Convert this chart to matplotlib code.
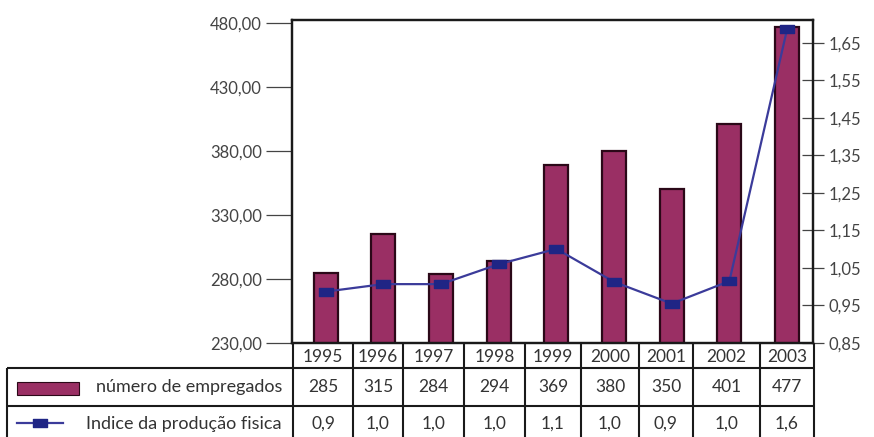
import numpy as np
import matplotlib
matplotlib.use("Agg")
import matplotlib.pyplot as plt
from matplotlib.path import Path

plt.rcParams['font.family'] = ['Lato', 'DejaVu Sans']

# ---- data ----
anos = ["1995", "1996", "1997", "1998", "1999", "2000", "2001", "2002", "2003"]
empregados = [285, 315, 284, 294, 369, 380, 350, 401, 477]
indice_producao = [0.987, 1.007, 1.007, 1.060, 1.101, 1.013, 0.955, 1.015, 1.687]
ticks_esq = [230, 280, 330, 380, 430, 480]
ticks_dir = [0.85, 0.95, 1.05, 1.15, 1.25, 1.35, 1.45, 1.55, 1.65]

# ---- figure geometry (pixels) ----
W, H = 874, 437
fig = plt.figure(figsize=(W / 100, H / 100), dpi=100)
PL, PR, PT, PB = 292, 813, 20, 343

ax = fig.add_axes([PL / W, 1 - PB / H, (PR - PL) / W, (PB - PT) / H])
ax2 = ax.twinx()

BAR_FILL = "#9a2f64"
BAR_EDGE = "#2b0818"
LINE_COL = "#3b3b9a"
MARK_COL = "#1f2585"
TXT = "#333333"
TICK_TXT = "#444444"
FRAME = "#1a1a1a"

x = np.arange(len(anos))
pitch = 57.7
c0 = 325.5
ax.set_xlim((PL - c0) / pitch, (PR - c0) / pitch)
ax.bar(x, empregados, width=24 / pitch, color=BAR_FILL, edgecolor=BAR_EDGE,
       linewidth=1.6, zorder=2)
ax.set_ylim(230, 480 + 3 / 1.28)

# wide rectangular marker
rect = Path([(-1, -0.62), (1, -0.62), (1, 0.62), (-1, 0.62), (-1, -0.62)],
            [Path.MOVETO, Path.LINETO, Path.LINETO, Path.LINETO, Path.CLOSEPOLY])
ax2.plot(x, indice_producao, color=LINE_COL, lw=1.6, marker=rect,
         markersize=10, markerfacecolor=MARK_COL, markeredgecolor=MARK_COL,
         zorder=3)
ax2.set_ylim(0.85, 0.85 + 323 / 375)

ax.set_xticks([])
ax.set_yticks(ticks_esq)
ax.set_yticklabels([f"{v:.2f}".replace(".", ",") for v in ticks_esq])
ax2.set_yticks(ticks_dir)
ax2.set_yticklabels([f"{v:.2f}".replace(".", ",") for v in ticks_dir])

ax.tick_params(axis="y", direction="out", length=18.5, width=0.9, color="#444444",
               pad=3, labelsize=12, labelcolor=TICK_TXT)
ax2.tick_params(axis="y", direction="inout", length=16, width=0.9, color="#444444",
                pad=3, labelsize=12, labelcolor=TICK_TXT)

for a in (ax, ax2):
    for s in a.spines.values():
        s.set_color(FRAME)
        s.set_linewidth(1.6)

# ---- data table below the chart ----
ov = fig.add_axes([0, 0, 1, 1], zorder=5)
ov.set_xlim(0, W)
ov.set_ylim(H, 0)
ov.axis("off")

cols = [293, 353, 403, 464, 525, 581, 639, 693, 760, 814]
r_top, r1, r2, r_bot = 343, 368, 406, H + 2
lk = dict(color=FRAME, lw=1.5, solid_capstyle="butt")

ov.plot([7, 814], [r1, r1], **lk)
ov.plot([7, 814], [r2, r2], **lk)
ov.plot([7, 7], [r1, r_bot], **lk)
for cx in cols:
    ov.plot([cx, cx], [r_top, r_bot], **lk)

fs = 12.5
for i in range(len(anos)):
    xc = (cols[i] + cols[i + 1]) / 2
    ov.text(xc, (r_top + r1) / 2 + 1, anos[i], ha="center", va="center",
            fontsize=fs, color=TXT)
    ov.text(xc, (r1 + r2) / 2, str(empregados[i]), ha="center", va="center",
            fontsize=fs, color=TXT)
    trunc = np.floor(indice_producao[i] * 10 + 1e-9) / 10
    ov.text(xc, (r2 + H) / 2 + 2, f"{trunc:.1f}".replace(".", ","),
            ha="center", va="center", fontsize=fs, color=TXT)

# legend keys inside the first column
ov.add_patch(plt.Rectangle((17, 382), 62, 13, facecolor=BAR_FILL,
                           edgecolor=BAR_EDGE, lw=0.8))
ov.text(282, (r1 + r2) / 2, "número de empregados", ha="right", va="center",
        fontsize=13, color=TXT)
ov.plot([17, 63], [423, 423], color=LINE_COL, lw=1.6)
ov.plot([40], [423], marker=rect, markersize=10, markerfacecolor=MARK_COL,
        markeredgecolor=MARK_COL)
ov.text(282, (r2 + H) / 2 + 2, "Indice da produção fisica", ha="right",
        va="center", fontsize=13, color=TXT)

fig.savefig("out.png", dpi=100)
